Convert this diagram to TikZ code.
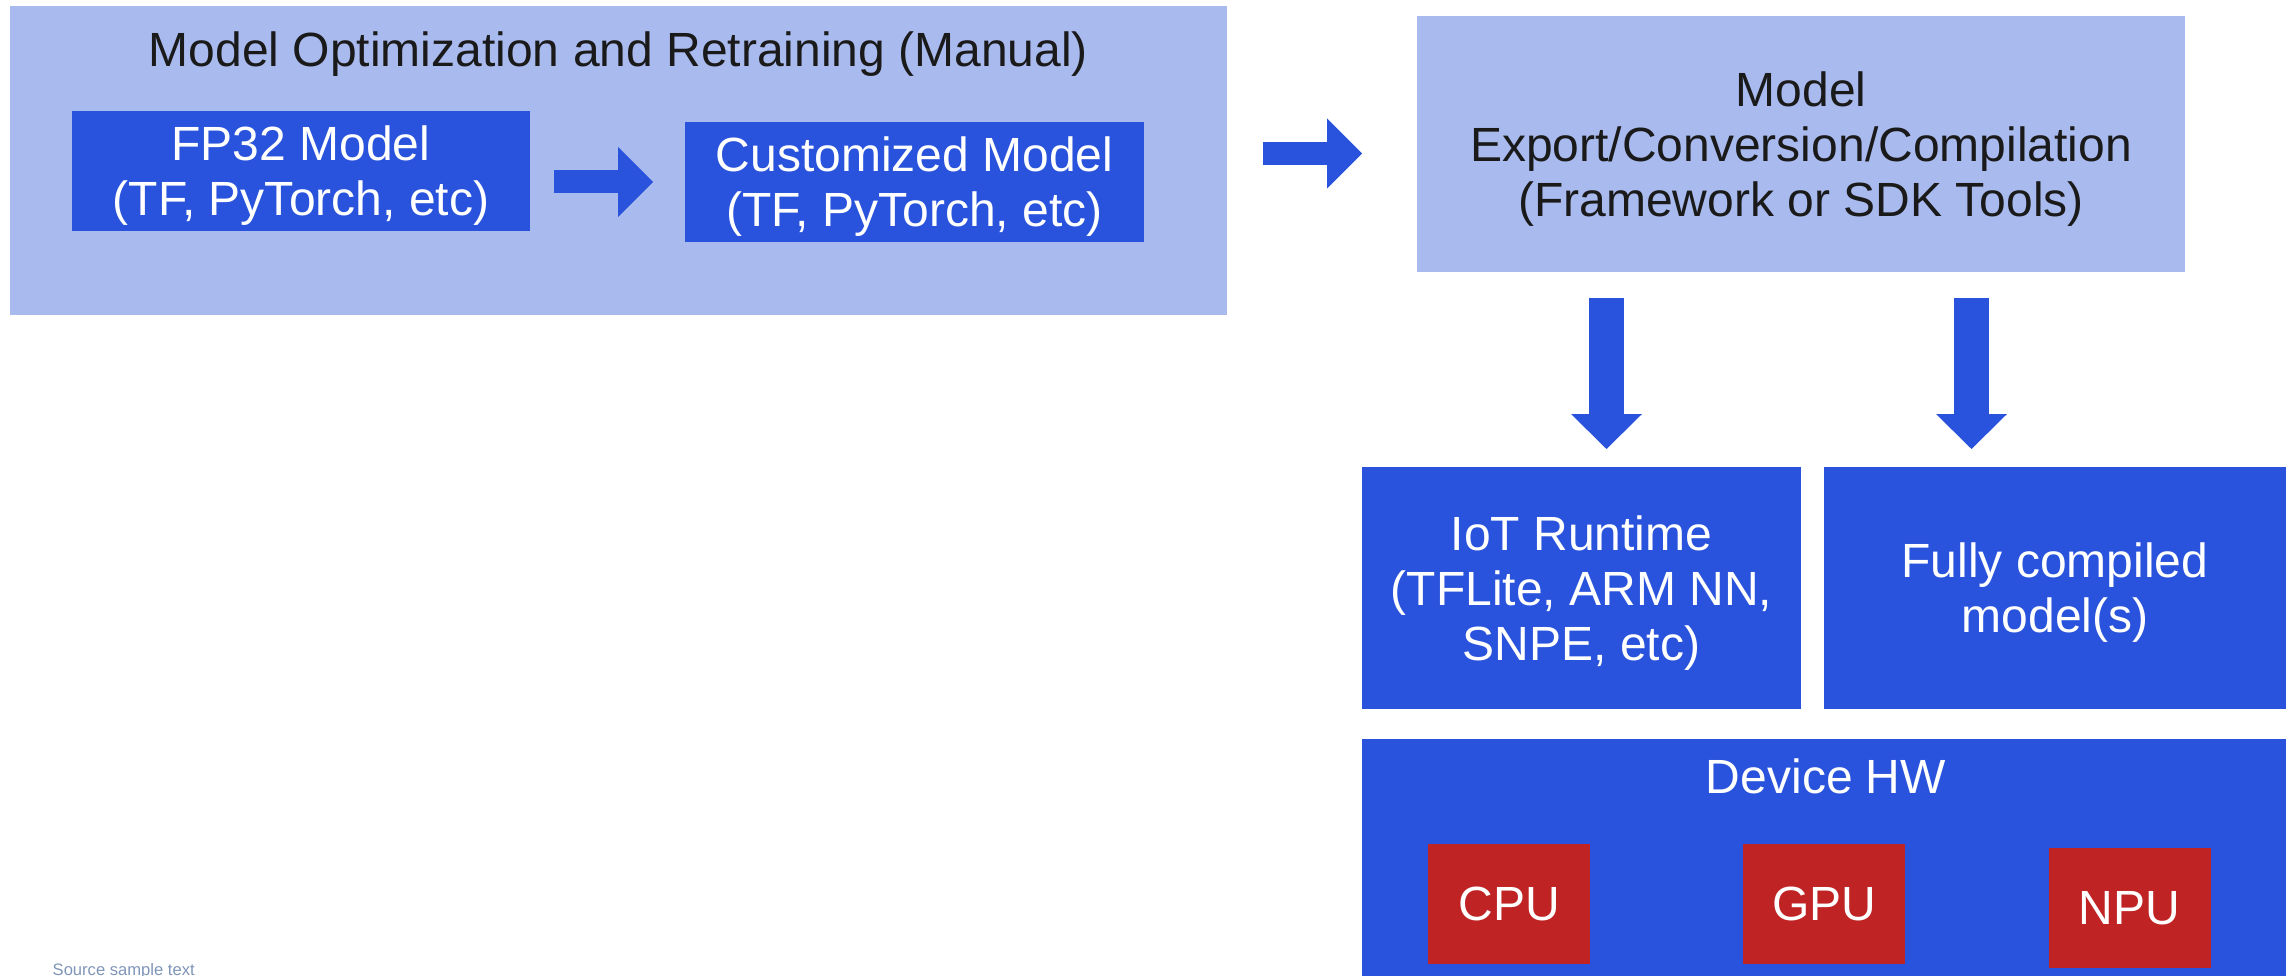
\documentclass[tikz,border=0pt]{standalone}
\usepackage{fontspec}
\setmainfont{Liberation Sans}
\usepackage{tikz}
\usetikzlibrary{positioning, arrows.meta, calc}
\definecolor{cLIGHT}{HTML}{A9BAEE}
\definecolor{cBLUE}{HTML}{2953DC}
\definecolor{cRED}{HTML}{C02323}
\definecolor{cSRC}{HTML}{7F95B8}
\definecolor{cTEXT}{HTML}{1A1A1A}
\tikzset{
  panel/.style={
    fill=#1, draw=none,
    inner sep=0pt, outer sep=0pt,
    align=center,
    font=\fontsize{13.66}{15.65}\selectfont
  },
  % no depth on the last line, so the text sits a bit lower
  textpanel/.style={
    panel=#1,
    text depth=0pt
  },
  lightbox/.style={textpanel=cLIGHT, text=cTEXT},
  bluebox/.style={textpanel=cBLUE, text=white},
  chipbox/.style={
    panel=cRED, text=white,
    minimum width=1.62cm,
    minimum height=1.2cm
  },
  heading/.style={
    font=\fontsize{13.66}{15.65}\selectfont,
    inner sep=0pt,
    anchor=base
  },
  blockarrow/.style={
    -{Triangle[length=0.35cm, width=0.70cm, line width=0pt]},
    line width=0.23cm,
    draw=cBLUE
  },
  downarrow/.style={
    -{Triangle[length=0.35cm, width=0.71cm, line width=0pt]},
    line width=0.35cm,
    draw=cBLUE
  }
}

\begin{document}
\begin{tikzpicture}
  \useasboundingbox (0,0) rectangle (22.86,-9.76);

  % retraining stage
  \node[panel=cLIGHT, minimum width=12.17cm, minimum height=3.09cm] (optim) at (6.185,-1.605) {};
  \node[heading, text=cTEXT] (optimtitle) at (6.185,-0.67) {Model Optimization and Retraining (Manual)};
  \node[bluebox, minimum width=4.58cm, minimum height=1.2cm] (fp32) at (3.01,-1.71) {FP32 Model\\(TF, PyTorch, etc)};
  \node[bluebox, minimum width=4.59cm, minimum height=1.2cm] (custom) at (9.145,-1.82) {Customized Model\\(TF, PyTorch, etc)};

  % export and runtimes
  \node[lightbox, minimum width=7.68cm, minimum height=2.56cm] (export) at (18.01,-1.44) {Model\\Export/Conversion/Compilation\\(Framework or SDK Tools)};
  \node[bluebox, minimum width=4.39cm, minimum height=2.42cm] (iot) at (15.815,-5.88) {IoT Runtime\\(TFLite, ARM NN,\\SNPE, etc)};
  \node[bluebox, minimum width=4.62cm, minimum height=2.42cm, right=0.23cm of iot] (fully) {Fully compiled\\model(s)};

  % hardware
  \node[panel=cBLUE, minimum width=9.24cm, minimum height=2.37cm, anchor=north west] (device) at (13.62,-7.39) {};
  \node[heading, text=white] (devtitle) at (18.26,-7.93) {Device HW};
  \node[chipbox] (cpu) at (15.09,-9.04) {CPU};
  \node[chipbox] (gpu) at (18.24,-9.04) {GPU};
  \node[chipbox] (npu) at (21.295,-9.08) {NPU};

  \node[anchor=base west, inner sep=0pt, text=cSRC, font=\fontsize{4.72}{5.6}\selectfont] (source) at (0.52,-9.75) {Source sample text};

  % flow arrows
  \draw[blockarrow] ($(fp32.east |- custom.east)+(0.24,0)$) -- ($(custom.west)+(-0.32,0)$);
  \draw[blockarrow] ($(optim.east)+(0.36,0.07)$) -- ($(optim.east -| export.west)+(-0.55,0.07)$);
  \draw[downarrow] ($(export.south west)+(1.895,-0.26)$) -- ($(export.south west |- iot.north)+(1.895,0.18)$);
  \draw[downarrow] ($(export.south west)+(5.545,-0.26)$) -- ($(export.south west |- iot.north)+(5.545,0.18)$);
\end{tikzpicture}
\end{document}
